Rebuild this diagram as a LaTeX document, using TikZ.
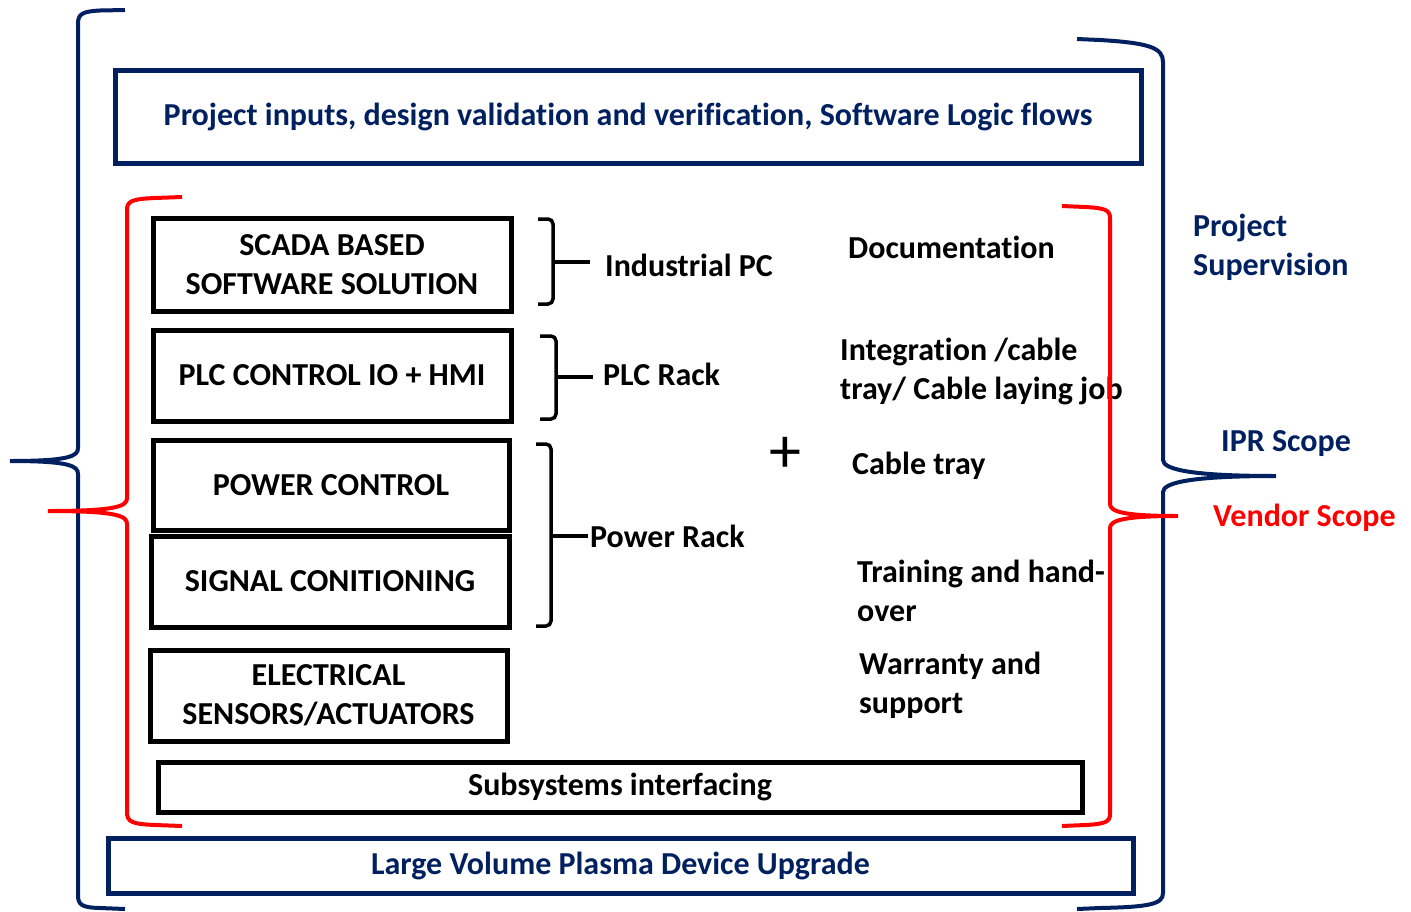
\documentclass[tikz,border=0pt]{standalone}
\usepackage{fontspec}
\setmainfont{Carlito}[Ligatures={NoCommon}]
\definecolor{navy}{HTML}{002060}
\definecolor{vred}{HTML}{FF0000}
\begin{document}
\begin{tikzpicture}[x=1pt,y=-1pt,
  bbox/.style={draw=black,line width=5pt,minimum width=#1,inner sep=0pt,align=center,font=\fontsize{32}{39}\selectfont\bfseries},
  nbox/.style={draw=navy,line width=5pt,minimum width=#1,inner sep=0pt,align=center,text=navy,font=\fontsize{32}{39}\selectfont\bfseries},
  lbl/.style={anchor=west,inner sep=0pt,align=left,font=\fontsize{32}{39}\selectfont\bfseries},
  bigbrace/.style={line width=4pt,line cap=butt},
  smallbrace/.style={line width=3.5pt,rounded corners=5pt}]
\useasboundingbox (0,0) rectangle (1411,911);
% blue outer boxes
\node[nbox=1026,minimum height=93] (title) at (628,116.5) {Project inputs, design validation and verification, Software Logic flows};
\node[nbox=1025,minimum height=55] (lvpd) at (620.5,865.5) {Large Volume Plasma Device Upgrade};
% black boxes
\node[bbox=358,minimum height=93] (scada) at (332,264.5) {SCADA BASED\\SOFTWARE SOLUTION};
\node[bbox=358,minimum height=91] (plc) at (332,375.5) {PLC CONTROL IO + HMI};
\node[bbox=356,minimum height=90] (power) at (331,485) {POWER CONTROL};
\node[bbox=358,minimum height=91] (signal) at (330,581.5) {SIGNAL CONITIONING};
\node[bbox=357,minimum height=91] (elec) at (328.5,695.5) {ELECTRICAL\\SENSORS/ACTUATORS};
\node[bbox=924,minimum height=50] (subsys) at (620,787) {Subsystems interfacing};
% small black braces
\draw[smallbrace] (538,219) -- (553,219) -- (553,304) -- (538,304);
\draw[line width=3.5pt] (553,262) -- (590,262);
\draw[smallbrace] (540,336) -- (556,336) -- (556,419) -- (540,419);
\draw[line width=3.5pt] (556,377) -- (593,377);
\draw[smallbrace] (536,444) -- (551,444) -- (551,626) -- (536,626);
\draw[line width=3.5pt] (551,536) -- (588,536);
\node[lbl] (ipc) at (605,265) {Industrial PC};
\node[lbl] (plcr) at (603,374) {PLC Rack};
\node[lbl] (pwr) at (590,536) {Power Rack};
\node[inner sep=0pt,font=\fontsize{64}{64}\selectfont] (plus) at (785,455) {+};
% right-hand list
\node[lbl] (doc) at (848,247) {Documentation};
\node[lbl] (integ) at (840,371.5) {Integration /cable\\tray/ Cable laying job};
\node[lbl] (ctray) at (852,466) {Cable tray};
\node[lbl] (train) at (857,590.5) {Training and hand-\\over};
\node[lbl] (warr) at (859,685.5) {Warranty and\\support};
% scope labels
\node[lbl,text=navy] (psup) at (1193,247.5) {Project\\Supervision};
\node[lbl,text=navy] (ipr) at (1221,444) {IPR Scope};
\node[lbl,text=vred] (vend) at (1213,518) {Vendor Scope};
% big left blue brace
\draw[bigbrace,navy] (125,10) -- (100,10.5) .. controls (82,11.5) and (78,14) .. (78,24)
  -- (78,448) .. controls (78,456) and (70,461) .. (10,461)
  .. controls (70,461) and (78,466) .. (78,474)
  -- (78,895) .. controls (78,905) and (82,907.5) .. (100,908) -- (125,909);
% big left red brace
\draw[bigbrace,vred] (182,197) -- (155,198) .. controls (132,199) and (127,201) .. (127,210)
  -- (127,498) .. controls (127,506) and (118,511) .. (48,511)
  .. controls (118,511) and (127,516) .. (127,524)
  -- (127,812) .. controls (127,822) and (132,824) .. (155,825) -- (182,826);
% big right blue brace
\draw[bigbrace,navy] (1077,39) -- (1100,40) .. controls (1150,43) and (1163,48) .. (1163,62)
  -- (1163,460) .. controls (1163,470) and (1195,476) .. (1276,476)
  .. controls (1195,476) and (1163,482) .. (1163,492)
  -- (1163,893) .. controls (1163,904) and (1150,907) .. (1100,908) -- (1077,909);
% big right red brace
\draw[bigbrace,vred] (1062,206) -- (1085,207) .. controls (1105,208) and (1110,210) .. (1110,218)
  -- (1110,504) .. controls (1110,512) and (1125,516) .. (1178,516)
  .. controls (1125,516) and (1110,520) .. (1110,528)
  -- (1110,814) .. controls (1110,822) and (1105,824) .. (1085,825) -- (1062,826);
\end{tikzpicture}
\end{document}
